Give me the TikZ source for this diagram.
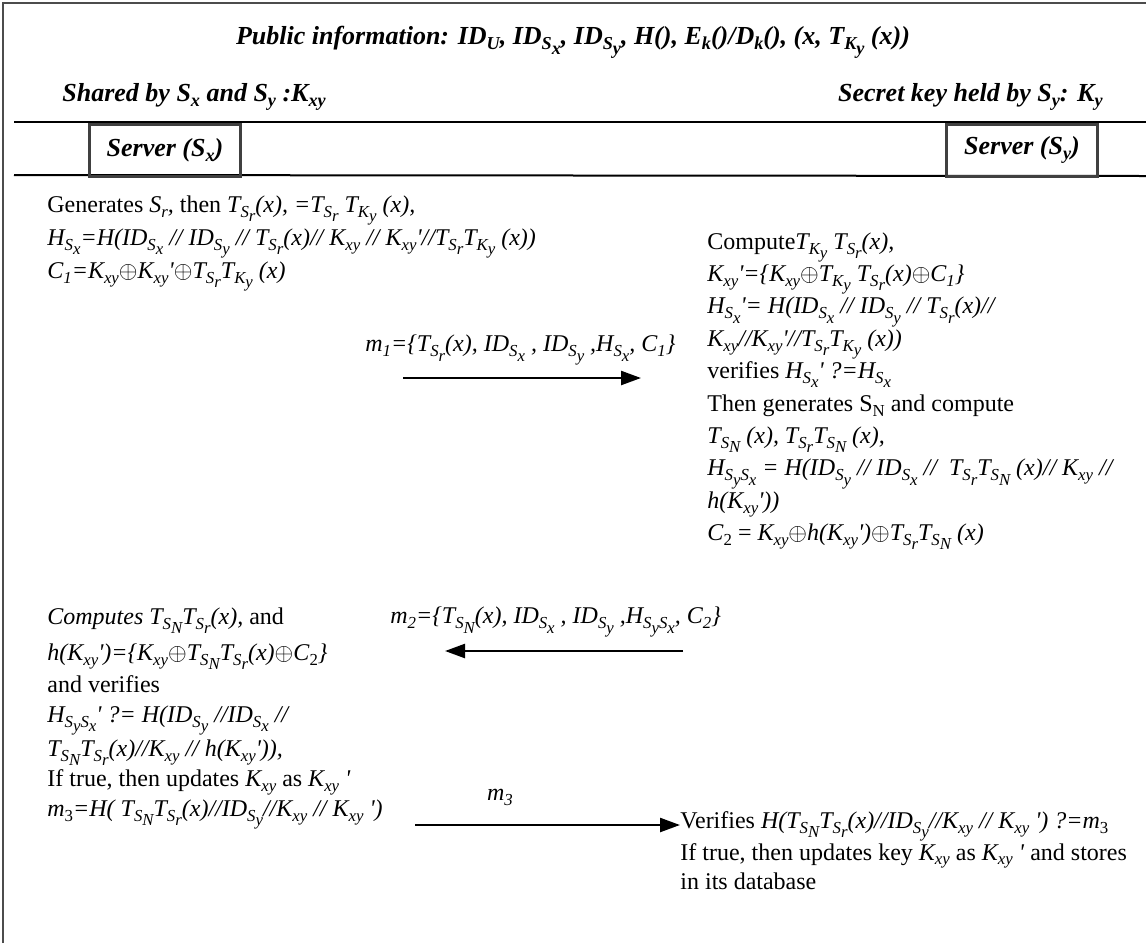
\documentclass[tikz,border=0pt]{standalone}
\usepackage{fontspec}
\setmainfont{Liberation Serif}
\usetikzlibrary{arrows.meta,positioning}

% subscript helper: first level smaller, deeper levels only lowered
\makeatletter
\newif\ifinlo
\newcommand{\lo}[1]{\ifinlo\raisebox{-0.55ex}{#1}\else
  \raisebox{-0.45ex}{\inlotrue\fontsize{\fpeval{0.7*\f@size}}{\f@baselineskip}\selectfont #1}\fi}
\makeatother
\newcommand{\xor}{$\oplus$}
\newcommand{\pr}{\textquotesingle}

\begin{document}
\begin{tikzpicture}[
    x=0.5pt, y=-0.5pt,
    head/.style={font=\fontsize{13}{16}\selectfont\bfseries\itshape, inner sep=0pt},
    server/.style={draw=black!75, line width=1.5pt, minimum width=75.5pt, minimum height=26pt,
      font=\fontsize{13}{16}\selectfont\bfseries\itshape},
    block/.style={font=\fontsize{12}{15.5}\selectfont, align=left, inner sep=0pt, anchor=north west},
    msglabel/.style={font=\fontsize{12}{15}\selectfont\itshape, inner sep=0pt},
    msg/.style={-{Triangle[length=10pt, width=7pt]}, line width=1.2pt}
]
    \useasboundingbox (0,0) rectangle (1146,943);

    % Frame
    \draw[line width=0.8pt, black!70] (3,943) -- (3,3) -- (1146,3);

    % Header
    \node[head] (public) at (573,42) {Public information: ID\lo{U}, ID\lo{S\lo{x}}, ID\lo{S\lo{y}}, H(), E\lo{k}()/D\lo{k}(), (x, T\lo{K\lo{y}} (x))};
    \node[head, anchor=west] (shared) at (62,97) {Shared by S\lo{x} and S\lo{y} :K\lo{xy}};
    \node[head, anchor=east] (secret) at (1103,97) {Secret key held by S\lo{y}: K\lo{y}};
    \draw[line width=1pt] (14,122) -- (1146,122);
    \draw[line width=1pt] (14,175) -- (1146,176);
    \node[server] (sx) at (165,150) {Server (S\lo{x})};
    \node[server] (sy) at (1022,150) {Server (S\lo{y})};

    % Sx: first step
    \node[block] (gen) at (47,195) {%
      Generates \textit{S\lo{r}, }then \textit{T\lo{S\lo{r}}(x), =T\lo{S\lo{r}} T\lo{K\lo{y}} (x),}\\[1pt]
      \textit{H\lo{S\lo{x}}=H(ID\lo{S\lo{x}} // ID\lo{S\lo{y}} // T\lo{S\lo{r}}(x)// K\lo{xy} // K\lo{xy}\pr//T\lo{S\lo{r}}T\lo{K\lo{y}} (x))}\\[1pt]
      \textit{C\lo{1}=K\lo{xy}}\xor\textit{K\lo{xy}\pr}\xor\textit{T\lo{S\lo{r}}T\lo{K\lo{y}} (x)}};

    % Sy: check and reply
    \node[block, font=\fontsize{12}{16.2}\selectfont] (check) at (707,232) {%
      Compute\textit{T\lo{K\lo{y}} T\lo{S\lo{r}}(x),}\\
      \textit{K\lo{xy}\pr=\{K\lo{xy}}\xor\textit{T\lo{K\lo{y}} T\lo{S\lo{r}}(x)}\xor\textit{C\lo{1}\}}\\
      \textit{H\lo{S\lo{x}}\pr= H(ID\lo{S\lo{x}} // ID\lo{S\lo{y}} // T\lo{S\lo{r}}(x)//}\\
      \textit{K\lo{xy}//K\lo{xy}\pr//T\lo{S\lo{r}}T\lo{K\lo{y}} (x))}\\
      verifies \textit{H\lo{S\lo{x}}\pr\ ?=H\lo{S\lo{x}}}\\
      Then generates S\lo{N} and compute\\
      \textit{T\lo{S\lo{N}} (x), T\lo{S\lo{r}}T\lo{S\lo{N}} (x),}\\
      \textit{H\lo{S\lo{y}S\lo{x}} = H(ID\lo{S\lo{y}} // ID\lo{S\lo{x}} //\ \ T\lo{S\lo{r}}T\lo{S\lo{N}} (x)// K\lo{xy} //}\\
      \textit{h(K\lo{xy}\pr))}\\
      \textit{C}\lo{2} = \textit{K\lo{xy}}\xor\textit{h(K\lo{xy}\pr)}\xor\textit{T\lo{S\lo{r}}T\lo{S\lo{N}} (x)}};

    % Sx: verify and update
    \node[block, font=\fontsize{12}{15}\selectfont] (upd) at (47,607) {%
      \textit{Computes T\lo{S\lo{N}}T\lo{S\lo{r}}(x),} and\\[3pt]
      \textit{h(K\lo{xy}\pr)=\{K\lo{xy}}\xor\textit{T\lo{S\lo{N}}T\lo{S\lo{r}}(x)}\xor\textit{C}\lo{2}\textit{\}}\\[1pt]
      and verifies\\
      \textit{H\lo{S\lo{y}S\lo{x}}\pr\ ?= H(ID\lo{S\lo{y}} //ID\lo{S\lo{x}} //}\\[2pt]
      \textit{T\lo{S\lo{N}}T\lo{S\lo{r}}(x)//K\lo{xy} // h(K\lo{xy}\pr)),}\\
      If true, then updates \textit{K\lo{xy}} as \textit{K\lo{xy} \pr}\\
      \textit{m}\lo{3}\textit{=H( T\lo{S\lo{N}}T\lo{S\lo{r}}(x)//ID\lo{S\lo{y}}//K\lo{xy} // K\lo{xy} \pr)}};

    % Sy: final check
    \node[block, font=\fontsize{12}{14.5}\selectfont] (fin) at (680,811) {%
      Verifies \textit{H(T\lo{S\lo{N}}T\lo{S\lo{r}}(x)//ID\lo{S\lo{y}}//K\lo{xy} // K\lo{xy} \pr) ?=m}\lo{3}\\
      If true, then updates key \textit{K\lo{xy}} as \textit{K\lo{xy} \pr} and stores\\
      in its database};

    % Messages
    \coordinate (m1a) at (403,378);
    \coordinate (m1b) at (641,378);
    \coordinate (m2a) at (683,651);
    \coordinate (m2b) at (445,651);
    \coordinate (m3a) at (415,825);
    \coordinate (m3b) at (680,825);
    \draw[msg] (m1a) -- (m1b);
    \draw[msg] (m2a) -- (m2b);
    \draw[msg] (m3a) -- (m3b);
    \node[msglabel, anchor=west] (m1) at (365,350) {m\lo{1}=\{T\lo{S\lo{r}}(x), ID\lo{S\lo{x}} , ID\lo{S\lo{y}} ,H\lo{S\lo{x}}, C\lo{1}\}};
    \node[msglabel, anchor=west] (m2) at (390,622) {m\lo{2}=\{T\lo{S\lo{N}}(x), ID\lo{S\lo{x}} , ID\lo{S\lo{y}} ,H\lo{S\lo{y}S\lo{x}}, C\lo{2}\}};
    \node[msglabel] (m3) at (500,797) {m\lo{3}};
\end{tikzpicture}
\end{document}
